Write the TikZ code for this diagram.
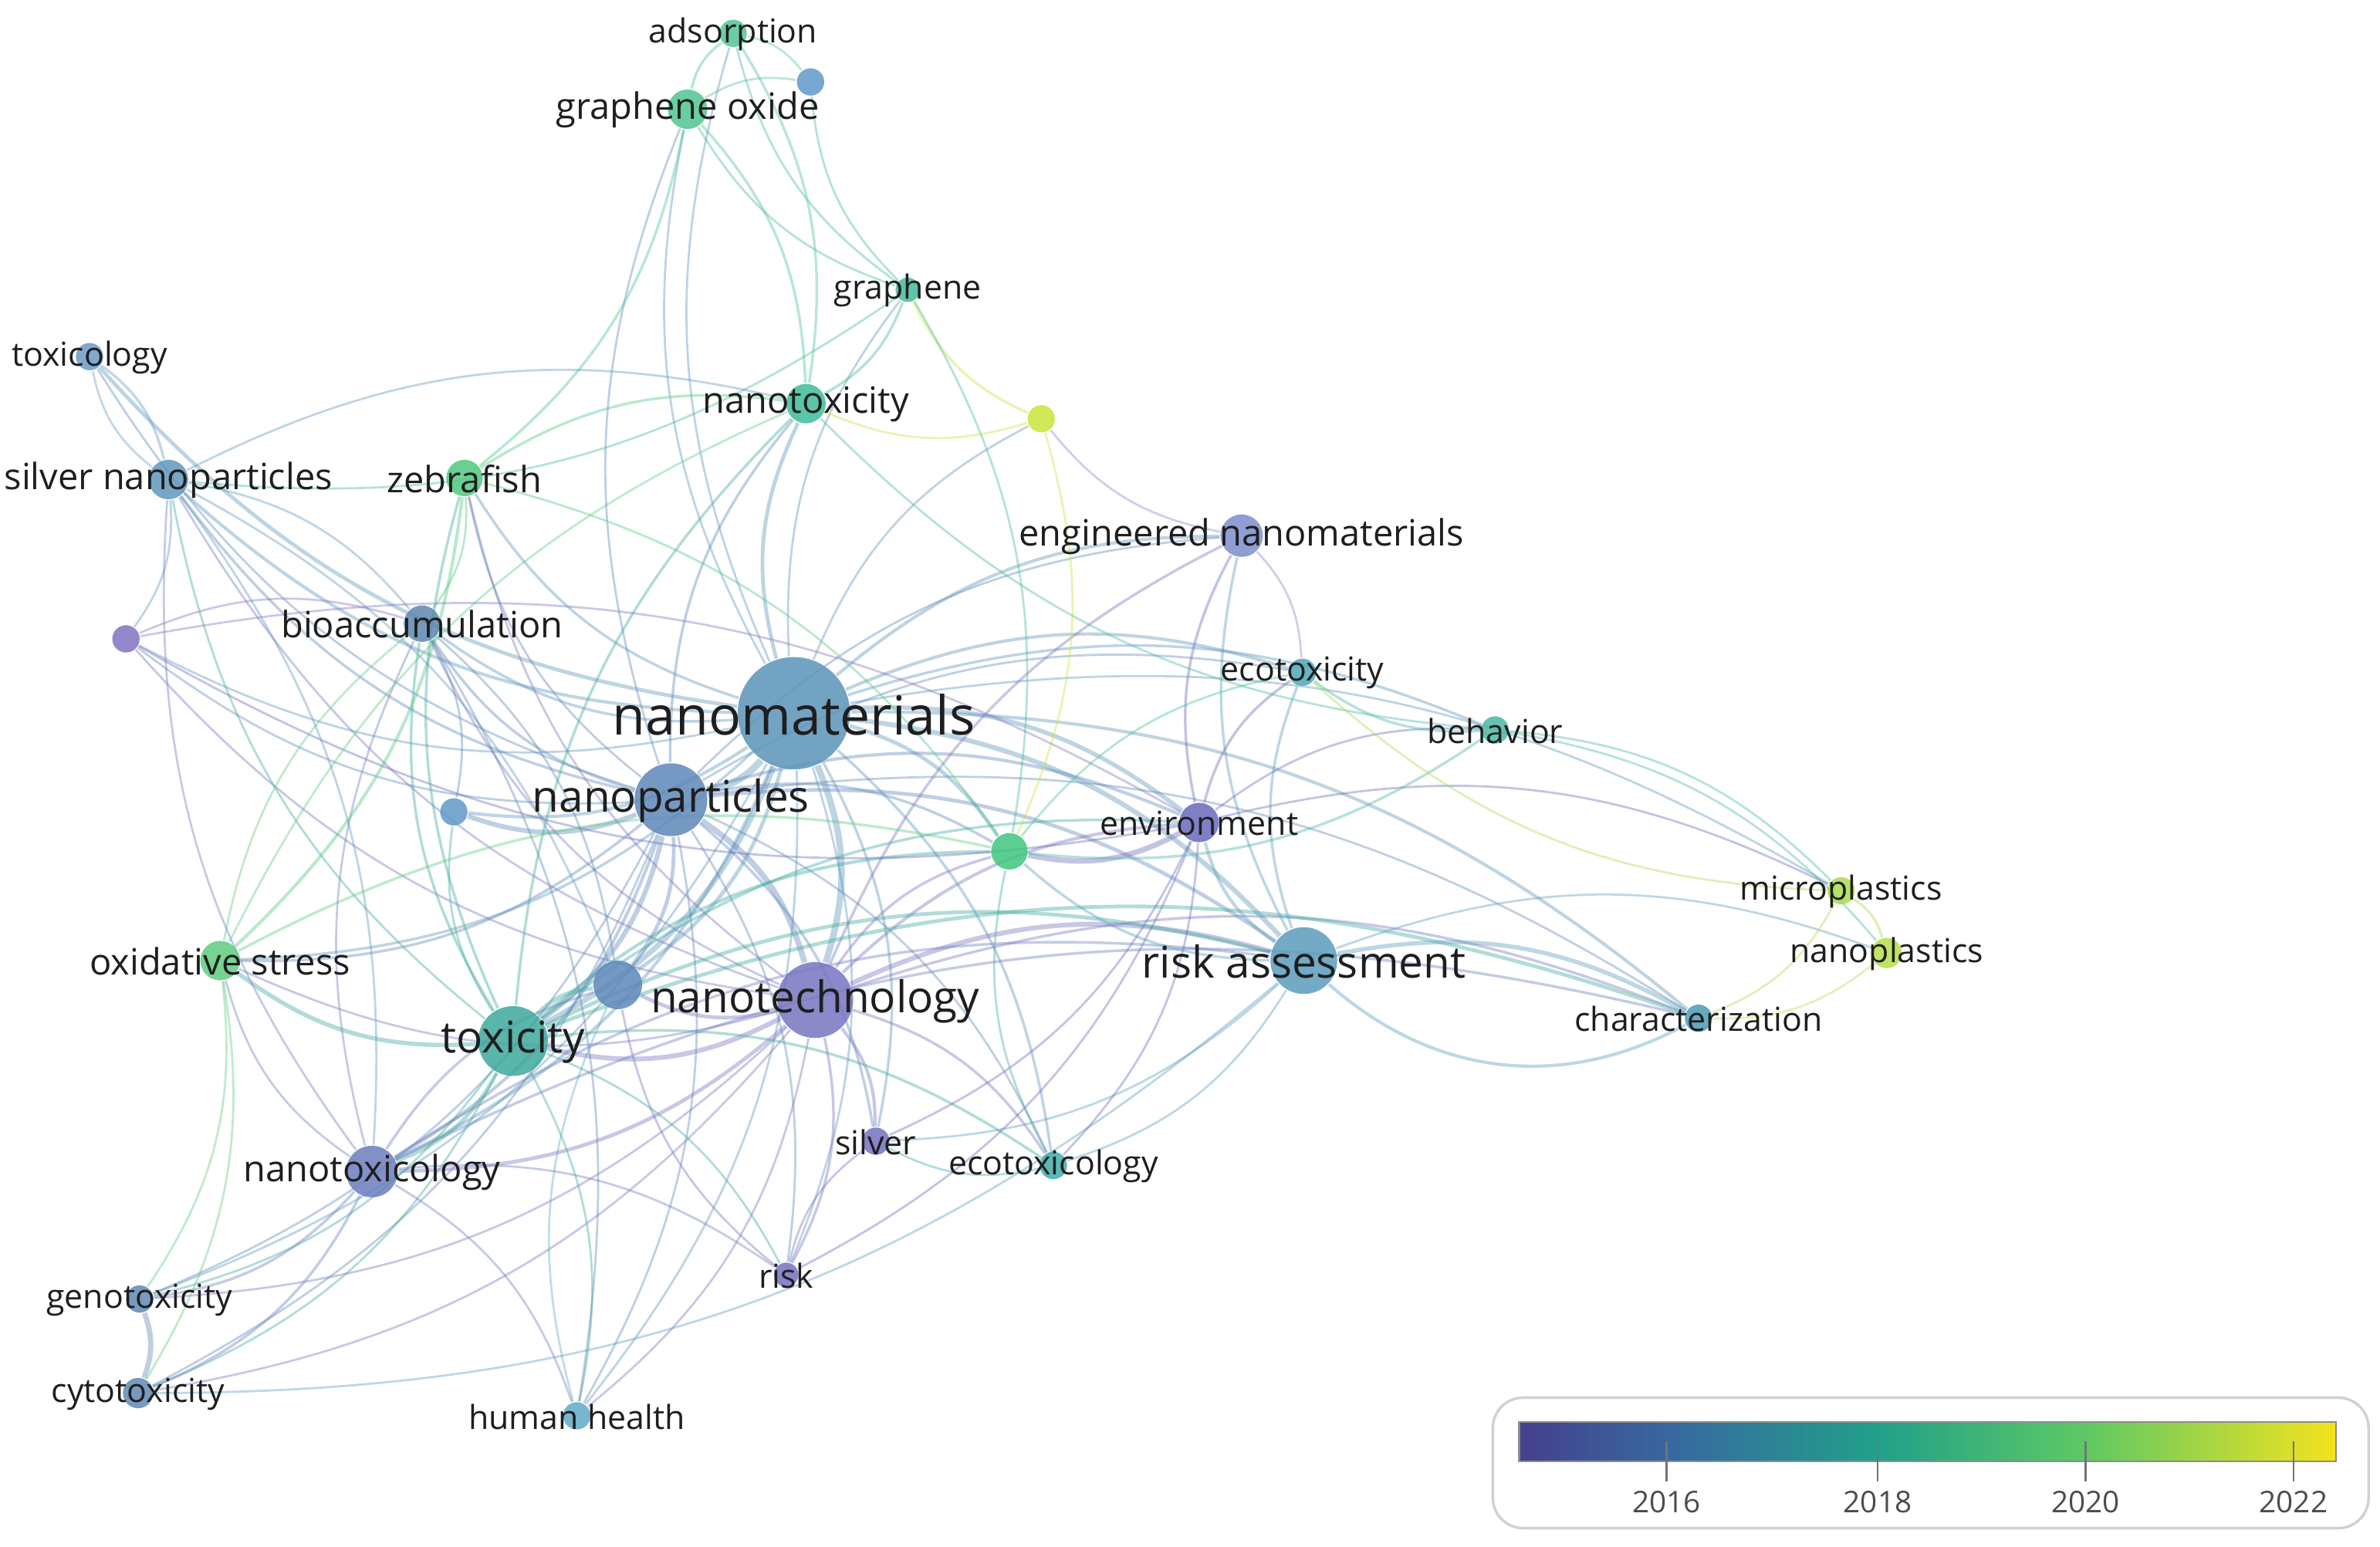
\documentclass[tikz,border=0pt]{standalone}
\usepackage{fontspec}
\setmainfont{Open Sans}
\usetikzlibrary{positioning}

\definecolor{txt}{HTML}{1E1E1E}
\definecolor{cnmat}{HTML}{5B93B8}
\definecolor{cnpar}{HTML}{5E87B8}
\definecolor{cntech}{HTML}{7774C0}
\definecolor{cras}{HTML}{5A9BBB}
\definecolor{ctox}{HTML}{3DA89B}
\definecolor{cntl}{HTML}{6B7EBE}
\definecolor{cenm}{HTML}{7B8DCB}
\definecolor{cenv}{HTML}{6A68BC}
\definecolor{cgox}{HTML}{4DC492}
\definecolor{cads}{HTML}{52C494}
\definecolor{cntx}{HTML}{3DBC98}
\definecolor{czeb}{HTML}{4FC87E}
\definecolor{coxs}{HTML}{5ECB7F}
\definecolor{cbio}{HTML}{5C87AE}
\definecolor{cagnp}{HTML}{6096BC}
\definecolor{ctxl}{HTML}{6A9AC6}
\definecolor{cbn}{HTML}{6098CA}
\definecolor{cgra}{HTML}{44B89B}
\definecolor{cyel}{HTML}{C9E43B}
\definecolor{cecx}{HTML}{4EA7B7}
\definecolor{cbeh}{HTML}{49B7A5}
\definecolor{cmps}{HTML}{A9DC4C}
\definecolor{cnps}{HTML}{B4DE4A}
\definecolor{cchr}{HTML}{4A9BB2}
\definecolor{csilv}{HTML}{7470BF}
\definecolor{cecl}{HTML}{3FAAAA}
\definecolor{cgen}{HTML}{5F88B3}
\definecolor{chh}{HTML}{60A9C4}
\definecolor{cpur}{HTML}{8272C2}
\definecolor{cgrn}{HTML}{3FC57F}
\definecolor{va}{HTML}{45408C}
\definecolor{vb}{HTML}{38679F}
\definecolor{vc}{HTML}{21A08A}
\definecolor{vd}{HTML}{5EC964}
\definecolor{ve}{HTML}{F4E31E}

\pgfdeclarelayer{bg}
\pgfsetlayers{bg,main}

\tikzset{
  kw/.style={circle, inner sep=0pt, minimum size=#1, fill opacity=.85},
  lbS/.style={font=\fontsize{6.2}{7}\selectfont, text=txt, text opacity=1, inner sep=0pt, yshift=-.05mm},
  lbM/.style={font=\fontsize{6.8}{8}\selectfont, text=txt, text opacity=1, inner sep=0pt, yshift=-.05mm},
  lbL/.style={font=\fontsize{8.2}{9}\selectfont, text=txt, text opacity=1, inner sep=0pt, yshift=-.08mm},
  lbXL/.style={font=\fontsize{10.1}{11}\selectfont, text=txt, text opacity=1, inner sep=0pt, yshift=-.08mm},
  lnk/.style={draw=#1, draw opacity=.4, line width=.4pt, bend left=20},
  yrlbl/.style={font=\fontsize{5.6}{6}\selectfont, text=black!70, inner sep=0pt},
}

\begin{document}
\begin{tikzpicture}[x=0.1mm, y=-0.1mm]
\useasboundingbox (0,0) rectangle (1568,1019);

% keywords
\node[kw=.74cm, fill=cnmat, label={[lbXL]center:nanomaterials}] (nmat) at (523,470) {};
\node[kw=.48cm, fill=cnpar, label={[lbL]center:nanoparticles}] (npar) at (442,527) {};
\node[kw=.50cm, fill=cntech, label={[lbL]center:nanotechnology}] (ntech) at (537,659) {};
\node[kw=.44cm, fill=cras, label={[lbL]center:risk assessment}] (ras) at (859,633) {};
\node[kw=.46cm, fill=ctox, label={[lbL]center:toxicity}] (tox) at (338,686) {};
\node[kw=.34cm, fill=cntl, label={[lbM]center:nanotoxicology}] (ntl) at (245,772) {};
\node[kw=.28cm, fill=cenm, label={[lbM]center:engineered nanomaterials}] (enm) at (818,353) {};
\node[kw=.26cm, fill=cenv, label={[lbS]center:environment}] (env) at (790,542) {};
\node[kw=.26cm, fill=cgox, label={[lbM]center:graphene oxide}] (gox) at (453,72) {};
\node[kw=.18cm, fill=cads, label={[lbS]center:adsorption}] (ads) at (483,22) {};
\node[kw=.18cm, fill=cbn] (bn1) at (534,54) {};
\node[kw=.16cm, fill=cgra, label={[lbS]center:graphene}] (gra) at (598,191) {};
\node[kw=.26cm, fill=cntx, label={[lbM]center:nanotoxicity}] (ntx) at (531,266) {};
\node[kw=.18cm, fill=cyel] (yel) at (686,276) {};
\node[kw=.18cm, fill=ctxl, label={[lbS]center:toxicology}] (txl) at (59,235) {};
\node[kw=.26cm, fill=cagnp, label={[lbM]center:silver nanoparticles}] (agnp) at (111,316) {};
\node[kw=.24cm, fill=czeb, label={[lbM]center:zebrafish}] (zeb) at (306,315) {};
\node[kw=.18cm, fill=cpur] (pur) at (83,421) {};
\node[kw=.24cm, fill=cbio, label={[lbM]center:bioaccumulation}] (bio) at (278,411) {};
\node[kw=.18cm, fill=cecx, label={[lbS]center:ecotoxicity}] (ecx) at (858,443) {};
\node[kw=.18cm, fill=cbeh, label={[lbS]center:behavior}] (beh) at (985,481) {};
\node[kw=.18cm, fill=cbn] (bn2) at (299,535) {};
\node[kw=.24cm, fill=cgrn] (grn) at (665,561) {};
\node[kw=.18cm, fill=cmps, label={[lbS]center:microplastics}] (mps) at (1213,587) {};
\node[kw=.20cm, fill=cnps, label={[lbS]center:nanoplastics}] (nps) at (1243,628) {};
\node[kw=.26cm, fill=coxs, label={[lbM]center:oxidative stress}] (oxs) at (145,633) {};
\node[kw=.32cm, fill=cnpar] (bn3) at (407,649) {};
\node[kw=.18cm, fill=cchr, label={[lbS]center:characterization}] (chr) at (1119,671) {};
\node[kw=.18cm, fill=csilv, label={[lbS]center:silver}] (silv) at (577,752) {};
\node[kw=.18cm, fill=cecl, label={[lbS]center:ecotoxicology}] (ecl) at (694,768) {};
\node[kw=.16cm, fill=csilv, label={[lbS]center:risk}] (rsk) at (518,840) {};
\node[kw=.18cm, fill=cgen, label={[lbS]center:genotoxicity}] (gen) at (92,856) {};
\node[kw=.20cm, fill=cgen, label={[lbS]center:cytotoxicity}] (cyt) at (91,918) {};
\node[kw=.18cm, fill=chh, label={[lbS]center:human health}] (hh) at (380,933) {};

% links
\begin{pgfonlayer}{bg}
\foreach \t/\w in {npar/1.3, ntech/1.2, tox/1.0, ras/.9, env/.8, grn/.7, ntx/.7, enm/.6, ecx/.6, beh/.5, ntl/.6, bn3/.7, bn2/.6, oxs/.5, chr/.6, ecl/.5, silv/.5, rsk/.4, hh/.4, bio/.5, zeb/.5, agnp/.6, txl/.7, gra/.4, gox/.4, ads/.4, pur/.4, yel/.4, mps/.4, gen/.4}
  \draw[lnk=cnmat, line width=\w pt] (nmat) to (\t);
\foreach \t/\w in {ntech/1.1, tox/.9, bn2/.9, bn3/.7, ntl/.6, ras/.7, env/.6, oxs/.5, hh/.4, grn/.5, silv/.5, rsk/.4, cyt/.4, ecl/.4, chr/.4, gen/.4, ecx/.4, bio/.5, agnp/.5, zeb/.4, pur/.4, gox/.4, ntx/.5, txl/.4, enm/.4}
  \draw[lnk=cnpar, line width=\w pt] (npar) to (\t);
\foreach \t/\w in {ras/.9, tox/.9, ntl/.7, rsk/.5, silv/.6, hh/.4, env/.6, enm/.5, ecl/.5, bn3/.7, gen/.4, cyt/.4, grn/.5, chr/.5, zeb/.4, bio/.4, agnp/.4, pur/.4, oxs/.4}
  \draw[lnk=cntech, line width=\w pt] (ntech) to (\t);
\foreach \t/\w in {oxs/.8, ntl/.7, gen/.4, hh/.4, bn3/.8, ras/.7, env/.5, grn/.6, chr/.7, ecl/.5, rsk/.4, zeb/.5, bio/.5, agnp/.4, cyt/.4, bn2/.4, ntx/.5}
  \draw[lnk=ctox, line width=\w pt] (tox) to (\t);
\foreach \t/\w in {gen/.5, cyt/.5, oxs/.4, bn3/.5, ras/.5, chr/.5, rsk/.4, bio/.4, agnp/.4, hh/.4}
  \draw[lnk=cntl, line width=\w pt] (ntl) to (\t);
\foreach \t/\w in {env/.6, enm/.5, ecx/.5, chr/.8, grn/.5, ecl/.4, nps/.4, cyt/.4, silv/.4}
  \draw[lnk=cras, line width=\w pt] (ras) to (\t);
\draw[lnk=cras, line width=.6pt, bend left=-35] (ras) to (chr);
\foreach \t/\w in {enm/.5, ecx/.5, beh/.4, grn/1.0, mps/.4, silv/.4, rsk/.4, ecl/.4, pur/.4}
  \draw[lnk=cenv, line width=\w pt] (env) to (\t);
\foreach \t/\w in {ecx/.4, yel/.4}
  \draw[lnk=cenm, line width=\w pt] (enm) to (\t);
\foreach \t/\w in {gra/.5, grn/.4, ntx/.4}
  \draw[lnk=cyel, line width=\w pt] (yel) to (\t);
\foreach \t/\w in {ecx/.5, mps/.4, nps/.4, grn/.5, ntx/.4}
  \draw[lnk=cbeh, line width=\w pt] (beh) to (\t);
\foreach \t/\w in {nps/.5, chr/.4, ecx/.4}
  \draw[lnk=cmps, line width=\w pt] (mps) to (\t);
\draw[lnk=cnps] (nps) to (chr);
\foreach \t/\w in {ntx/.5, grn/.4, gox/.4, ads/.4, bn1/.4, agnp/.4}
  \draw[lnk=cgra, line width=\w pt] (gra) to (\t);
\foreach \t/\w in {ads/.5, bn1/.4, ntx/.5, zeb/.5}
  \draw[lnk=cgox, line width=\w pt] (gox) to (\t);
\foreach \t/\w in {ntx/.5, bn1/.4}
  \draw[lnk=cads, line width=\w pt] (ads) to (\t);
\foreach \t/\w in {oxs/.6, bio/.4, ntx/.5, grn/.4}
  \draw[lnk=czeb, line width=\w pt] (zeb) to (\t);
\foreach \t/\w in {gen/.4, cyt/.4, bio/.4, grn/.5, ntx/.4}
  \draw[lnk=coxs, line width=\w pt] (oxs) to (\t);
\draw[lnk=ctxl, line width=.5pt] (txl) to (agnp);
\draw[lnk=ctxl, bend left=-20] (txl) to (agnp);
\foreach \t/\w in {pur/.4, bio/.4, bn3/.4, ntl/.4, ntx/.4}
  \draw[lnk=cagnp, line width=\w pt] (agnp) to (\t);
\foreach \t/\w in {bio/.4, env/.4}
  \draw[lnk=cpur, line width=\w pt] (pur) to (\t);
\foreach \t/\w in {bn3/.4, bn2/.4, hh/.4}
  \draw[lnk=cbio, line width=\w pt] (bio) to (\t);
\draw[lnk=cgen, line width=1pt] (gen) to (cyt);
\draw[lnk=chh] (hh) to (bn3);
\draw[lnk=cecl] (ecl) to (grn);
\draw[lnk=cecl] (ecl) to (silv);
\draw[lnk=csilv] (rsk) to (silv);
\draw[lnk=csilv] (rsk) to (bn3);
\draw[lnk=cgrn] (grn) to (ecx);
\end{pgfonlayer}

% legend
\node[draw=black!18, rounded corners=2mm, line width=.5pt, minimum width=5.77cm, minimum height=.86cm] (legend) at (1272,964) {};
\shade[left color=va, right color=vb] (1001,937) rectangle (1098,963);
\shade[left color=vb, right color=vc] (1098,937) rectangle (1237,963);
\shade[left color=vc, right color=vd] (1237,937) rectangle (1374,963);
\shade[left color=vd, right color=ve] (1374,937) rectangle (1539,963);
\draw[black!45, line width=.4pt] (1001,937) rectangle (1539,963);
\foreach \x/\yr in {1098/2016, 1237/2018, 1374/2020, 1511/2022} {
  \draw[black!55, line width=.35pt] (\x,950) -- (\x,976);
  \node[yrlbl] (y\yr) at (\x,990) {\yr};
}
\end{tikzpicture}
\end{document}
